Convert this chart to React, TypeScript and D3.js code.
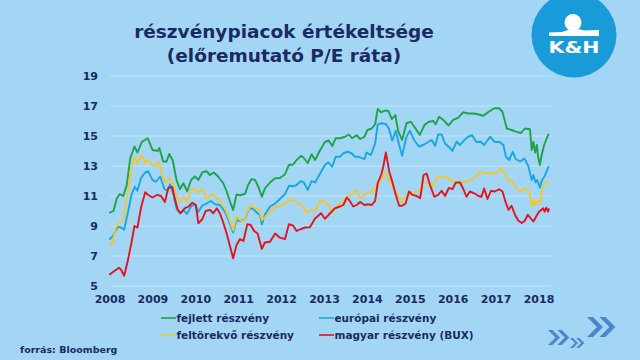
import React, { useMemo } from 'react';
import * as d3 from 'd3';

const WIDTH = 640;
const HEIGHT = 360;
const PLOT = { left: 110, right: 539, top: 76, bottom: 286 };

// years since Jan 2008, forward P/E
const fejlett: [number, number][] = [
  [0, 9.9], [0.08, 10.0], [0.16, 10.85], [0.23, 11.13], [0.31, 11.0], [0.39, 11.73], [0.47, 13.5],
  [0.57, 14.3], [0.64, 13.9], [0.74, 14.6], [0.88, 14.85], [0.99, 14.07], [1.11, 14.0], [1.15, 14.2],
  [1.24, 13.3], [1.32, 13.3], [1.38, 13.8], [1.46, 13.4], [1.55, 12.07], [1.63, 11.45], [1.71, 11.85],
  [1.8, 11.3], [1.89, 12.07], [1.98, 12.3], [2.06, 12.07], [2.15, 12.57], [2.25, 12.65], [2.33, 12.4],
  [2.42, 12.57], [2.52, 12.3], [2.64, 11.85], [2.72, 11.3], [2.8, 10.6], [2.87, 10.07], [2.95, 11.1],
  [3.03, 11.05], [3.15, 11.15], [3.22, 11.73], [3.3, 12.13], [3.38, 12.07], [3.46, 11.6], [3.54, 10.95],
  [3.61, 11.5], [3.73, 11.9], [3.85, 12.18], [3.96, 12.2], [4.08, 12.45], [4.17, 13.07], [4.27, 13.1],
  [4.35, 13.4], [4.45, 13.67], [4.5, 13.6], [4.61, 13.2], [4.7, 13.78], [4.78, 13.4], [4.9, 14.07],
  [5.01, 14.6], [5.1, 14.7], [5.18, 14.33], [5.26, 14.85], [5.36, 14.85], [5.48, 14.95], [5.57, 15.1],
  [5.64, 14.85], [5.75, 15.05], [5.83, 14.8], [5.93, 14.95], [6.0, 15.4], [6.1, 15.5], [6.18, 15.78],
  [6.24, 16.8], [6.32, 16.58], [6.41, 16.7], [6.49, 16.67], [6.57, 16.13], [6.65, 16.4], [6.72, 15.3],
  [6.81, 14.73], [6.91, 15.85], [7.01, 15.95], [7.11, 15.55], [7.22, 15.07], [7.33, 15.73], [7.43, 15.95],
  [7.54, 16.0], [7.59, 15.78], [7.67, 16.28], [7.77, 16.07], [7.89, 15.7], [8.0, 16.07], [8.12, 16.23],
  [8.23, 16.58], [8.35, 16.5], [8.47, 16.5], [8.58, 16.45], [8.7, 16.35], [8.82, 16.6], [8.96, 16.85],
  [9.07, 16.85], [9.15, 16.6], [9.25, 15.5], [9.36, 15.4], [9.48, 15.28], [9.58, 15.2], [9.67, 15.5],
  [9.79, 15.45], [9.83, 14.07], [9.87, 14.6], [9.91, 13.9], [9.95, 14.4], [9.98, 13.6], [10.02, 13.07],
  [10.06, 13.7], [10.12, 14.4], [10.18, 14.85], [10.22, 15.1],
];

const europai: [number, number][] = [
  [0, 8.13], [0.08, 8.4], [0.18, 8.95], [0.26, 8.9], [0.33, 8.75], [0.43, 10.07], [0.5, 11.07],
  [0.58, 11.62], [0.64, 11.35], [0.72, 12.18], [0.82, 12.57], [0.89, 12.65], [0.99, 12.07], [1.07, 11.95],
  [1.17, 12.3], [1.27, 11.45], [1.34, 11.35], [1.4, 11.78], [1.48, 11.07], [1.55, 10.18], [1.63, 9.85],
  [1.71, 10.07], [1.79, 9.8], [1.89, 10.3], [1.98, 10.45], [2.06, 9.95], [2.15, 10.35], [2.25, 10.5],
  [2.35, 10.67], [2.45, 10.45], [2.56, 10.4], [2.68, 9.95], [2.77, 9.33], [2.87, 8.58], [2.95, 9.4],
  [3.03, 9.33], [3.15, 9.5], [3.24, 10.18], [3.34, 10.13], [3.42, 9.9], [3.5, 9.7], [3.54, 9.1],
  [3.61, 9.75], [3.73, 10.3], [3.85, 10.5], [3.96, 10.8], [4.08, 11.13], [4.17, 11.68], [4.27, 11.65],
  [4.35, 11.73], [4.45, 12.0], [4.52, 11.9], [4.61, 11.4], [4.7, 12.0], [4.78, 11.9], [4.9, 12.5],
  [5.01, 13.07], [5.09, 13.25], [5.18, 12.95], [5.26, 13.62], [5.36, 13.62], [5.44, 13.85], [5.54, 13.95],
  [5.63, 13.85], [5.71, 13.62], [5.79, 13.62], [5.93, 13.45], [5.98, 13.9], [6.08, 13.73], [6.18, 14.5],
  [6.24, 15.78], [6.33, 15.85], [6.43, 15.8], [6.5, 15.5], [6.58, 14.7], [6.66, 15.35], [6.74, 14.4],
  [6.81, 13.68], [6.91, 14.95], [6.99, 15.35], [7.09, 14.73], [7.2, 14.3], [7.3, 14.4], [7.42, 14.6],
  [7.5, 14.73], [7.58, 14.35], [7.65, 15.1], [7.73, 15.1], [7.81, 14.5], [7.92, 14.22], [7.98, 14.0],
  [8.08, 14.62], [8.16, 14.4], [8.26, 14.73], [8.35, 14.95], [8.44, 15.05], [8.54, 14.6], [8.64, 14.62],
  [8.72, 14.4], [8.86, 14.95], [8.97, 14.6], [9.09, 14.6], [9.17, 14.4], [9.23, 13.62], [9.3, 13.4],
  [9.39, 13.95], [9.46, 13.45], [9.56, 13.3], [9.66, 13.5], [9.75, 13.0], [9.83, 12.07], [9.87, 12.4],
  [9.92, 11.9], [9.96, 12.07], [10.02, 11.55], [10.07, 12.07], [10.13, 12.3], [10.22, 12.95],
];

const feltorekvo: [number, number][] = [
  [0, 7.73], [0.06, 7.85], [0.13, 8.85], [0.21, 9.2], [0.31, 9.4], [0.41, 11.07], [0.49, 12.85],
  [0.57, 13.62], [0.64, 13.2], [0.74, 13.73], [0.82, 13.2], [0.89, 13.4], [0.97, 13.07], [1.07, 13.0],
  [1.14, 13.3], [1.22, 12.3], [1.3, 11.9], [1.38, 12.18], [1.46, 11.85], [1.55, 10.95], [1.63, 10.6],
  [1.71, 10.95], [1.8, 10.6], [1.89, 11.4], [1.98, 11.5], [2.06, 11.2], [2.15, 11.5], [2.25, 10.85],
  [2.35, 11.07], [2.45, 11.0], [2.56, 10.65], [2.68, 10.18], [2.77, 9.5], [2.87, 8.73], [2.95, 9.62],
  [3.03, 9.4], [3.11, 9.33], [3.22, 10.07], [3.3, 10.45], [3.38, 10.18], [3.48, 10.07], [3.54, 9.4],
  [3.63, 9.62], [3.73, 9.95], [3.85, 10.3], [3.96, 10.3], [4.08, 10.5], [4.2, 10.8], [4.31, 10.67],
  [4.43, 10.4], [4.5, 10.3], [4.58, 9.9], [4.7, 10.07], [4.78, 10.0], [4.9, 10.67], [5.01, 10.65],
  [5.09, 10.4], [5.18, 9.9], [5.26, 10.3], [5.36, 10.45], [5.48, 10.85], [5.57, 11.0], [5.67, 11.22],
  [5.75, 11.4], [5.83, 10.85], [5.93, 11.07], [6.0, 11.3], [6.1, 11.22], [6.18, 11.6], [6.28, 12.0],
  [6.35, 12.18], [6.41, 12.57], [6.49, 12.13], [6.57, 11.73], [6.66, 11.3], [6.74, 10.9], [6.81, 10.6],
  [6.89, 10.95], [6.97, 11.07], [7.05, 11.1], [7.15, 11.3], [7.25, 11.45], [7.33, 11.9], [7.43, 11.78],
  [7.51, 11.6], [7.62, 12.18], [7.69, 12.3], [7.77, 12.3], [7.89, 12.2], [8.0, 11.9], [8.12, 11.95],
  [8.23, 11.9], [8.35, 12.0], [8.47, 12.18], [8.54, 12.3], [8.62, 12.65], [8.74, 12.5], [8.86, 12.57],
  [8.96, 12.45], [9.05, 12.65], [9.13, 12.88], [9.21, 12.4], [9.3, 12.0], [9.38, 11.95], [9.48, 11.5],
  [9.58, 11.3], [9.67, 11.5], [9.77, 11.3], [9.83, 10.3], [9.87, 10.75], [9.91, 10.4], [9.96, 10.67],
  [10.02, 10.5], [10.08, 11.5], [10.13, 11.85], [10.22, 11.9],
];

const magyar: [number, number][] = [
  [0, 5.78], [0.1, 6.0], [0.21, 6.22], [0.26, 6.07], [0.33, 5.68], [0.41, 6.62], [0.49, 7.73],
  [0.57, 9.0], [0.64, 8.9], [0.72, 10.18], [0.82, 11.25], [0.89, 11.07], [0.99, 10.9], [1.09, 11.07],
  [1.19, 11.0], [1.28, 10.6], [1.36, 11.55], [1.45, 11.6], [1.51, 10.85], [1.58, 10.07], [1.65, 9.85],
  [1.74, 10.18], [1.83, 10.3], [1.92, 10.55], [2.0, 10.4], [2.06, 9.18], [2.15, 9.45], [2.23, 10.0],
  [2.33, 10.07], [2.41, 9.85], [2.49, 10.18], [2.56, 9.85], [2.62, 9.4], [2.72, 8.5], [2.8, 7.62],
  [2.87, 6.85], [2.95, 7.73], [3.03, 8.13], [3.11, 8.0], [3.2, 9.12], [3.28, 9.07], [3.36, 8.67],
  [3.44, 8.5], [3.54, 7.47], [3.61, 7.9], [3.73, 7.95], [3.85, 8.5], [3.96, 8.22], [4.08, 8.13],
  [4.17, 9.12], [4.27, 9.02], [4.35, 8.67], [4.45, 8.8], [4.55, 8.9], [4.66, 8.92], [4.78, 9.5],
  [4.92, 9.85], [5.01, 9.48], [5.13, 9.85], [5.24, 10.18], [5.36, 10.3], [5.44, 10.4], [5.52, 10.9],
  [5.59, 10.67], [5.67, 10.3], [5.75, 10.4], [5.83, 10.6], [5.93, 10.4], [6.02, 10.45], [6.1, 10.4],
  [6.18, 10.67], [6.24, 11.85], [6.32, 12.4], [6.37, 12.95], [6.43, 13.9], [6.51, 12.62], [6.58, 11.95],
  [6.66, 11.1], [6.74, 10.35], [6.81, 10.35], [6.89, 10.5], [6.97, 11.3], [7.05, 11.07], [7.15, 11.0],
  [7.23, 10.85], [7.31, 12.4], [7.38, 12.5], [7.46, 11.73], [7.56, 10.95], [7.65, 11.07], [7.73, 11.35],
  [7.81, 11.0], [7.9, 11.55], [7.98, 11.45], [8.06, 11.9], [8.16, 11.9], [8.23, 11.5], [8.31, 10.95],
  [8.39, 11.3], [8.49, 11.18], [8.59, 11.0], [8.66, 10.95], [8.72, 11.5], [8.8, 10.8], [8.88, 11.35],
  [8.97, 11.3], [9.07, 11.45], [9.15, 11.3], [9.22, 10.6], [9.29, 10.07], [9.36, 10.35], [9.44, 9.75],
  [9.52, 9.35], [9.6, 9.2], [9.67, 9.35], [9.74, 9.75], [9.81, 9.5], [9.87, 9.3], [9.95, 9.72],
  [10.0, 9.95], [10.05, 10.07], [10.1, 10.18], [10.13, 9.95], [10.17, 10.22], [10.21, 9.95], [10.23, 10.13],
];

const yearLabels = ['2008', '2009', '2010', '2011', '2012', '2013', '2014', '2015', '2016', '2017', '2018'];
const yTicks = [5, 7, 9, 11, 13, 15, 17, 19];

const seriesNames = ['fejlett részvény', 'európai részvény', 'feltörekvő részvény', 'magyar részvény (BUX)'];
const seriesColors = ['#1ea34b', '#18a7e2', '#f3c630', '#e3141c'];

const NAVY = '#1b2a63';
const FONT = '"DejaVu Sans", Verdana, sans-serif';

// double chevron ">>" at x,y with height h
const chevrons = (x: number, y: number, h: number) => {
  const t = h * 0.3;
  const d = h * 0.5;
  const one = (x0: number) =>
    `M${x0},${y}L${x0 + t},${y}L${x0 + t + d},${y + h / 2}L${x0 + t},${y + h}L${x0},${y + h}L${x0 + d},${y + h / 2}Z`;
  return one(x) + one(x + h * 0.62);
};

const App = () => {
  const xScale = useMemo(() => d3.scaleLinear().domain([0, 10]).range([PLOT.left, PLOT.right]), []);
  const yScale = useMemo(() => d3.scaleLinear().domain([5, 19]).range([PLOT.bottom, PLOT.top]), []);

  const line = d3
    .line<[number, number]>()
    .x((d) => xScale(d[0]))
    .y((d) => yScale(d[1]));

  const allSeries = [fejlett, europai, feltorekvo, magyar];

  return (
    <svg
      width={WIDTH}
      height={HEIGHT}
      style={{ position: 'absolute', left: 0, top: 0 }}
      fontFamily={FONT}
    >
      <rect width={WIDTH} height={HEIGHT} fill="#a3d6f5" />

      {/* title */}
      <text x={284} y={38} textAnchor="middle" fontSize={18.5} fontWeight="bold" fill={NAVY}>
        részvénypiacok értékeltsége
      </text>
      <text x={284} y={62} textAnchor="middle" fontSize={18.5} fontWeight="bold" fill={NAVY}>
        (előremutató P/E ráta)
      </text>

      {/* logo */}
      <circle cx={574} cy={35} r={42.5} fill="#1a9bd9" />
      <circle cx={573} cy={22.5} r={8.5} fill="#fff" />
      <path d="M549,32.5 L562,32 Q573,27 584,30.5 L599,30 L599,36 L549,36 Z" fill="#fff" />
      <text x={574} y={53} textAnchor="middle" fontSize={16} fontWeight="bold" fill="#fff"
        textLength={51} lengthAdjust="spacingAndGlyphs">
        K&amp;H
      </text>

      {/* grid */}
      {yTicks.map((v) => (
        <line key={v} x1={110} x2={551} y1={yScale(v)} y2={yScale(v)} stroke="#c2e5f9" strokeWidth={1} />
      ))}

      {/* y labels */}
      {yTicks.map((v) => (
        <text key={v} x={98} y={yScale(v)} dy="0.36em" textAnchor="end" fontSize={11} fontWeight="bold" fill={NAVY}>
          {v}
        </text>
      ))}

      {/* x labels */}
      {yearLabels.map((lab, i) => (
        <text key={lab} x={xScale(i)} y={303} textAnchor="middle" fontSize={11} fontWeight="bold" fill={NAVY}>
          {lab}
        </text>
      ))}

      {/* series */}
      {allSeries.map((s, i) => (
        <path key={i} d={line(s) || ''} fill="none" stroke={seriesColors[i]} strokeWidth={1.9}
          strokeLinejoin="round" strokeLinecap="round" />
      ))}

      {/* legend */}
      {seriesNames.map((name, i) => {
        const lx = i % 2 === 0 ? 161 : 319;
        const ly = i < 2 ? 318 : 335;
        return (
          <g key={name}>
            <line x1={lx} x2={lx + 15} y1={ly} y2={ly} stroke={seriesColors[i]} strokeWidth={1.6} />
            <text x={lx + 15.5} y={ly} dy="0.36em" fontSize={10.5} fontWeight="bold" fill={NAVY}>
              {name}
            </text>
          </g>
        );
      })}

      {/* source */}
      <text x={20} y={352.5} fontSize={9.5} fontWeight="bold" fill={NAVY}>
        forrás: Bloomberg
      </text>

      {/* arrows */}
      <path d={chevrons(548, 330, 15)} fill="#4a86c9" />
      <path d={chevrons(570, 338, 10)} fill="#4a86c9" />
      <path d={chevrons(587, 317, 20)} fill="#4a86c9" />
    </svg>
  );
};

export default App;
